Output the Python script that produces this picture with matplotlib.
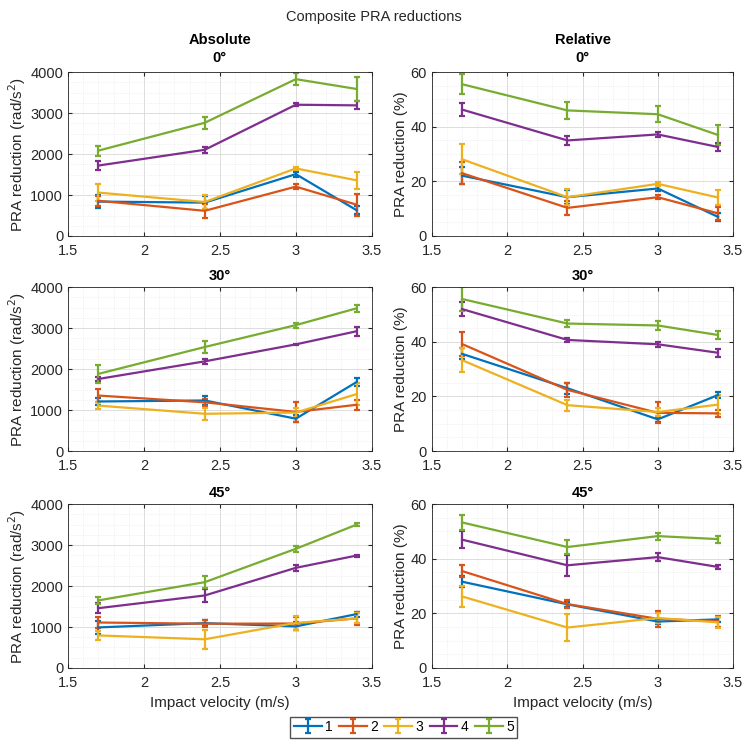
import numpy as np
import matplotlib
matplotlib.use("Agg")
import matplotlib.pyplot as plt
from matplotlib.ticker import MultipleLocator, FuncFormatter

plt.rcParams['font.family'] = ['Liberation Sans', 'DejaVu Sans']

# --- data ---
velocity = [1.7, 2.4, 3.0, 3.4]
group_labels = ["1", "2", "3", "4", "5"]
angles = ["0°", "30°", "45°"]

# absolute reduction (rad/s^2), rows = groups 1..5
abs_0 = [[840, 815, 1510, 630],
         [860, 615, 1205, 765],
         [1060, 830, 1650, 1360],
         [1720, 2105, 3205, 3190],
         [2085, 2765, 3830, 3590]]
abs_0_err = [[150, 150, 60, 100],
             [120, 170, 60, 270],
             [210, 180, 45, 210],
             [100, 80, 40, 95],
             [120, 150, 150, 300]]

abs_30 = [[1210, 1235, 790, 1685],
          [1355, 1190, 955, 1130],
          [1110, 910, 940, 1390],
          [1760, 2190, 2605, 2925],
          [1885, 2540, 3075, 3485]]
abs_30_err = [[80, 120, 80, 100],
              [150, 80, 240, 120],
              [80, 150, 100, 260],
              [40, 60, 20, 110],
              [220, 140, 60, 80]]

abs_45 = [[990, 1095, 1015, 1315],
          [1110, 1080, 1085, 1210],
          [795, 700, 1100, 1210],
          [1460, 1770, 2445, 2745],
          [1650, 2095, 2910, 3500]]
abs_45_err = [[150, 80, 100, 60],
              [130, 80, 150, 150],
              [110, 230, 170, 120],
              [120, 160, 70, 25],
              [90, 140, 80, 40]]

# relative reduction (%)
rel_0 = [[22.1, 14.2, 17.4, 7.0],
         [23.0, 10.3, 14.2, 8.3],
         [28.1, 14.2, 19.1, 14.1],
         [46.3, 35.0, 37.2, 32.6],
         [55.6, 46.0, 44.6, 37.0]]
rel_0_err = [[3.0, 2.5, 0.8, 1.5],
             [4.0, 2.5, 0.8, 2.5],
             [5.5, 3.0, 0.8, 2.8],
             [2.3, 1.5, 0.8, 1.5],
             [3.6, 3.0, 2.9, 3.8]]

rel_30 = [[35.6, 23.0, 11.6, 20.5],
          [39.2, 22.4, 14.0, 13.8],
          [33.3, 16.8, 14.3, 17.0],
          [52.0, 40.7, 39.1, 36.0],
          [55.7, 46.7, 46.0, 42.5]]
rel_30_err = [[2.0, 2.0, 1.0, 1.0],
              [4.5, 2.5, 3.8, 1.2],
              [4.5, 2.0, 1.5, 3.5],
              [2.5, 0.8, 1.0, 1.5],
              [4.5, 1.2, 1.8, 1.6]]

rel_45 = [[31.6, 23.3, 17.0, 17.8],
          [35.5, 23.4, 18.0, 17.1],
          [26.2, 14.8, 18.3, 16.7],
          [47.0, 37.6, 40.6, 37.0],
          [53.3, 44.3, 48.3, 47.2]]
rel_45_err = [[2.0, 1.0, 1.0, 1.0],
              [2.2, 1.5, 3.0, 2.0],
              [4.0, 5.0, 2.0, 2.0],
              [3.0, 3.8, 1.5, 0.6],
              [2.8, 2.5, 1.3, 1.3]]

abs_data = [(abs_0, abs_0_err), (abs_30, abs_30_err), (abs_45, abs_45_err)]
rel_data = [(rel_0, rel_0_err), (rel_30, rel_30_err), (rel_45, rel_45_err)]

# MATLAB default line colours
colors = ["#0072BD", "#D95319", "#EDB120", "#7E2F8E", "#77AC30"]
axis_gray = (0.15, 0.15, 0.15)

fig = plt.figure(figsize=(7.48, 7.48), dpi=100)
fig.suptitle("Composite PRA reductions", y=0.987, fontsize=10.5, color=axis_gray)

left_x = [0.091, 0.5775]
widths = [0.406, 0.4025]
row_bottoms = [0.6845, 0.397, 0.107]
row_height = 0.219


def style_axis(ax, ymax, ystep):
    ax.set_xlim(1.5, 3.5)
    ax.set_ylim(0, ymax)
    ax.xaxis.set_major_locator(MultipleLocator(0.5))
    ax.xaxis.set_minor_locator(MultipleLocator(0.1))
    ax.yaxis.set_major_locator(MultipleLocator(ystep))
    ax.yaxis.set_minor_locator(MultipleLocator(ystep / 4))
    ax.xaxis.set_major_formatter(FuncFormatter(lambda v, p: f"{v:g}"))
    ax.grid(True, which="major", color="#dcdcdc", linewidth=0.7)
    ax.grid(True, which="minor", color="#e6e6e6", linewidth=0.5, linestyle=":")
    ax.set_axisbelow(True)
    ax.tick_params(which="both", direction="in", top=True, right=True,
                   colors=axis_gray, labelsize=10.5)
    ax.tick_params(which="major", length=3)
    ax.tick_params(which="minor", length=0)
    ax.tick_params(axis="x", pad=6)
    for sp in ax.spines.values():
        sp.set_color(axis_gray)
        sp.set_linewidth(0.6)


handles = []
for row in range(3):
    for col in range(2):
        ax = fig.add_axes([left_x[col], row_bottoms[row], widths[col], row_height])
        vals, errs = (abs_data if col == 0 else rel_data)[row]
        for g in range(5):
            h = ax.errorbar(velocity, vals[g], yerr=errs[g], color=colors[g],
                            linewidth=1.6, elinewidth=1.6, capsize=2.5, capthick=1.6,
                            label=group_labels[g])
            if row == 0 and col == 0:
                handles.append(h)
        if col == 0:
            style_axis(ax, 4000, 1000)
            ax.set_ylabel("PRA reduction (rad/s$^2$)", fontsize=11, color=axis_gray, labelpad=2)
        else:
            style_axis(ax, 60, 20)
            ax.set_ylabel("PRA reduction (%)", fontsize=11, color=axis_gray, labelpad=2)
        if row == 0:
            top = "Absolute" if col == 0 else "Relative"
            ax.set_title(f"{top}\n{angles[row]}", fontsize=10.5, fontweight="bold",
                         pad=7, linespacing=1.45)
        else:
            ax.set_title(angles[row], fontsize=10.5, fontweight="bold", pad=5)
        if row == 2:
            ax.set_xlabel("Impact velocity (m/s)", fontsize=11, color=axis_gray)

fig.legend(handles, group_labels, loc="center", bbox_to_anchor=(0.54, 0.028), ncol=5,
           frameon=True, fancybox=False, edgecolor=axis_gray, fontsize=10,
           handlelength=2.0, handletextpad=0.25, columnspacing=0.45, borderpad=0.25)

fig.savefig("out.png", dpi=100)
